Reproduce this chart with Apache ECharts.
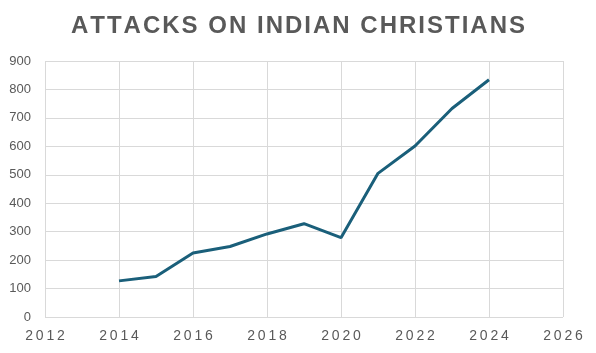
<!DOCTYPE html>
<html>
<head>
<meta charset="utf-8">
<script src="https://cdn.jsdelivr.net/npm/echarts@6/dist/echarts.min.js"></script>
<style>
  html, body { margin: 0; padding: 0; background: #fff; }
  #chart { width: 596px; height: 353px; }
</style>
</head>
<body>
<div id="chart"></div>
<script>
var years = [2014, 2015, 2016, 2017, 2018, 2019, 2020, 2021, 2022, 2023, 2024];
var attacks = [127, 142, 225, 248, 292, 328, 279, 505, 601, 733, 834];
var titleText = 'ATTACKS ON INDIAN CHRISTIANS';

// spread letters a little, like the reference title
function spaced(s, sep) { return s.split('').join(sep); }

var myChart = echarts.init(document.getElementById('chart'));
var option = {
  animation: false,
  title: {
    text: spaced(titleText, '\u200A'),
    left: 'center',
    top: 9,
    textStyle: {
      fontFamily: 'Liberation Sans',
      fontWeight: 'bold',
      fontSize: 24,
      color: '#595959'
    }
  },
  grid: { left: 45, right: 33, top: 61, bottom: 36 },
  xAxis: {
    type: 'value',
    min: 2012,
    max: 2026,
    interval: 2,
    axisLine: { show: false },
    axisTick: { show: false },
    splitLine: { show: true, lineStyle: { color: '#d9d9d9' } },
    axisLabel: {
      color: '#595959',
      fontSize: 14,
      margin: 12,
      fontFamily: 'Liberation Sans',
      formatter: function (v) { return spaced(String(v), '\u2009'); }
    }
  },
  yAxis: {
    type: 'value',
    min: 0,
    max: 900,
    interval: 100,
    axisLine: { show: false },
    axisTick: { show: false },
    splitLine: { lineStyle: { color: '#d9d9d9' } },
    axisLabel: { color: '#595959', fontSize: 13, margin: 14, fontFamily: 'Liberation Sans' }
  },
  series: [
    {
      type: 'line',
      data: years.map(function (y, i) { return [y, attacks[i]]; }),
      symbol: 'none',
      lineStyle: { color: '#1a5f7a', width: 3 }
    }
  ]
};
myChart.setOption(option);
</script>
</body>
</html>
